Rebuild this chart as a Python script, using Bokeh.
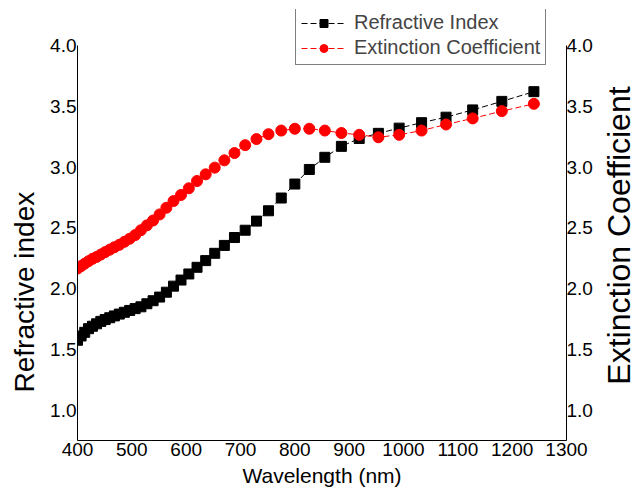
import numpy as np
from bokeh.plotting import figure
from bokeh.layouts import row
from bokeh.models import (Range1d, LinearAxis, FixedTicker, Legend, LegendItem,
                          NumeralTickFormatter, Title, Label)
from bokeh.embed import file_html
from bokeh.resources import INLINE

# Measured spectra (wavelength in nm)
wavelength_nm = [400.0, 406.6, 413.3, 420.3, 427.6, 435.1, 442.9, 450.9, 459.3, 467.9,
                 476.9, 486.3, 496.0, 506.1, 516.7, 527.7, 539.1, 551.1, 563.6, 576.7,
                 590.5, 604.9, 620.0, 635.9, 652.6, 670.3, 688.9, 708.6, 729.4, 751.5,
                 775.0, 800.0, 826.7, 855.2, 885.7, 918.5, 953.8, 992.0, 1033.3, 1078.3,
                 1127.3, 1181.0, 1240.0]

refractive_index = [1.575, 1.61, 1.64, 1.67, 1.69, 1.71, 1.73, 1.745, 1.76, 1.775,
                    1.79, 1.805, 1.82, 1.835, 1.85, 1.875, 1.90, 1.93, 1.97, 2.02,
                    2.07, 2.12, 2.175, 2.23, 2.29, 2.355, 2.42, 2.48, 2.555, 2.64,
                    2.745, 2.86, 2.98, 3.08, 3.17, 3.235, 3.277, 3.32, 3.365, 3.41,
                    3.47, 3.54, 3.62]

extinction_coeff = [2.165, 2.185, 2.205, 2.225, 2.245, 2.26, 2.28, 2.30, 2.32, 2.34,
                    2.36, 2.385, 2.41, 2.44, 2.48, 2.52, 2.56, 2.61, 2.665, 2.72,
                    2.77, 2.825, 2.885, 2.94, 2.995, 3.055, 3.115, 3.18, 3.23, 3.27,
                    3.30, 3.315, 3.315, 3.30, 3.28, 3.265, 3.245, 3.265, 3.30, 3.35,
                    3.40, 3.46, 3.52]

x_ticks = [400, 500, 600, 700, 800, 900, 1000, 1100, 1200, 1300]
y_ticks = [1.0, 1.5, 2.0, 2.5, 3.0, 3.5, 4.0]

FONT = "Liberation Sans"

# The plotting area reaches up past 4.0 so the legend can sit there;
# the y axes themselves stop at 4.0 through their bounds.
p = figure(width=595, height=492,
           x_range=Range1d(400, 1300), y_range=Range1d(0.75, 4.296),
           output_backend="svg", toolbar_location=None,
           min_border_left=77, min_border_right=27,
           min_border_top=9, min_border_bottom=52)

p.outline_line_color = None
p.xgrid.grid_line_color = None
p.ygrid.grid_line_color = None
p.background_fill_color = "white"
p.border_fill_color = "white"

p.xaxis.ticker = FixedTicker(ticks=x_ticks)
p.xaxis.axis_label = "Wavelength (nm)"
p.xaxis.axis_label_text_font_size = "21px"

p.yaxis.ticker = FixedTicker(ticks=y_ticks)
p.yaxis.formatter = NumeralTickFormatter(format="0.0")
p.yaxis.bounds = (0.75, 4.0)

right_axis = LinearAxis(ticker=FixedTicker(ticks=y_ticks),
                        formatter=NumeralTickFormatter(format="0.0"),
                        bounds=(0.75, 4.0))
p.add_layout(right_axis, "right")

for ax in p.axis:
    ax.major_tick_out = 0
    ax.major_tick_in = 0
    ax.minor_tick_out = 0
    ax.minor_tick_in = 0
    ax.major_tick_line_color = None
    ax.minor_tick_line_color = None
    ax.major_label_text_font = FONT
    ax.major_label_text_font_size = "19px"
    ax.major_label_text_color = "black"
    ax.major_label_standoff = 1
    ax.axis_label_text_font = FONT
    ax.axis_label_text_font_style = "normal"
    ax.axis_label_text_color = "black"
    ax.axis_line_color = "black"
    ax.axis_line_width = 1
right_axis.major_label_standoff = 0
p.xaxis.major_label_standoff = 2
p.xaxis.axis_label_standoff = 5

# Left title, anchored near the bottom of the left side
p.add_layout(Title(text="Refractive index", align="left", offset=48,
                   vertical_align="middle", standoff=14,
                   text_font=FONT, text_font_size="28px",
                   text_font_style="normal", text_color="black"), "left")

# Series: dashed connectors with markers
ri_line = p.line(wavelength_nm, refractive_index, line_color="black",
                 line_width=1, line_dash="6 3")
ri_pts = p.scatter(wavelength_nm, refractive_index, marker="square", size=10,
                   fill_color="black", line_color="black")
ec_line = p.line(wavelength_nm, extinction_coeff, line_color="red",
                 line_width=1, line_dash="6 3")
ec_pts = p.scatter(wavelength_nm, extinction_coeff, marker="circle", size=11,
                   fill_color="red", line_color="red")

legend = Legend(items=[
    LegendItem(label="Refractive Index", renderers=[ri_line, ri_pts]),
    LegendItem(label="Extinction Coefficient", renderers=[ec_line, ec_pts]),
], location=(218, 375))
legend.border_line_color = "black"
legend.border_line_width = 1
legend.background_fill_color = "white"
legend.background_fill_alpha = 1.0
legend.label_text_font = FONT
legend.label_text_font_size = "20px"
legend.glyph_width = 45
legend.glyph_height = 20
legend.label_height = 20
legend.label_standoff = 8
legend.padding = 5
legend.spacing = 2
legend.margin = 0
p.add_layout(legend, "center")

# Narrow strip on the right carrying the upward-reading right-hand title
side = figure(width=44, height=492, x_range=Range1d(0, 44), y_range=Range1d(0, 492),
              output_backend="svg", toolbar_location=None,
              x_axis_type=None, y_axis_type=None,
              min_border_left=0, min_border_right=0,
              min_border_top=0, min_border_bottom=0)
side.outline_line_color = None
side.xgrid.grid_line_color = None
side.ygrid.grid_line_color = None
side.background_fill_color = "white"
side.border_fill_color = "white"
side.add_layout(Label(x=23, y=234, text="Extinction Coefficient", angle=np.pi / 2,
                      text_align="center", text_baseline="middle",
                      text_font=FONT, text_font_size="32px", text_color="black"))

layout = row(p, side, spacing=0)

open("out.html", "w").write(file_html(layout, INLINE))
